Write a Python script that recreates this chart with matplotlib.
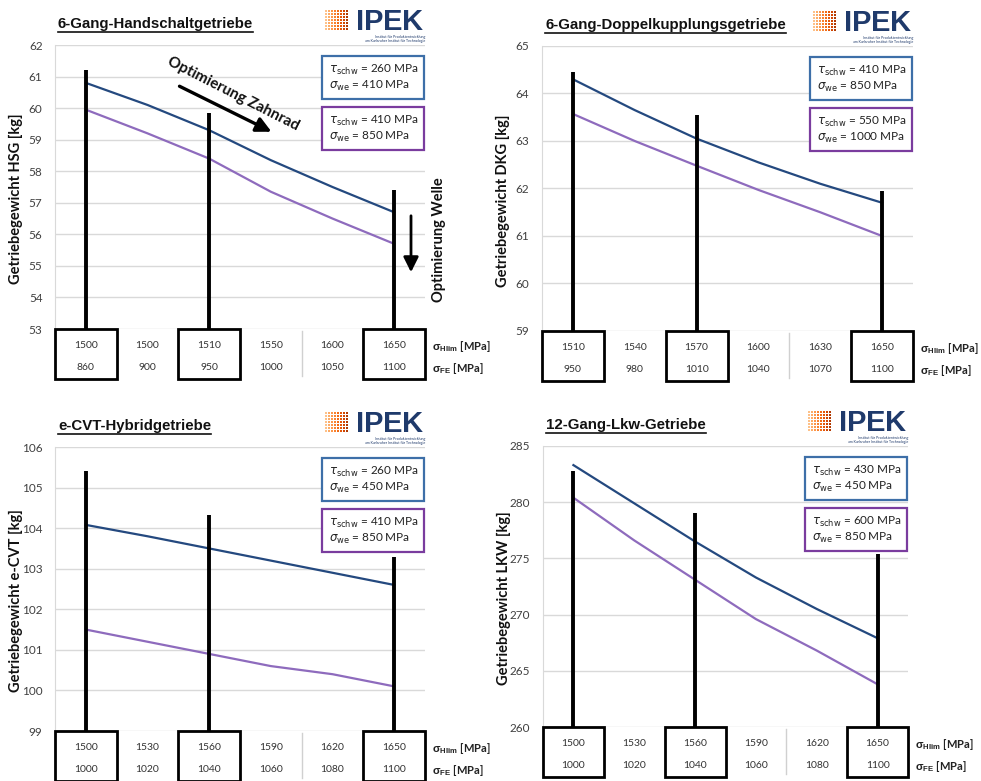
import numpy as np
import matplotlib.pyplot as plt
from matplotlib.patches import Rectangle, FancyArrowPatch
from matplotlib.transforms import blended_transform_factory

plt.rcParams['font.family'] = ['Lato', 'DejaVu Sans']
plt.rcParams['mathtext.fontset'] = 'custom'
plt.rcParams['mathtext.rm'] = 'DejaVu Sans'
plt.rcParams['mathtext.it'] = 'DejaVu Sans:italic'
plt.rcParams['mathtext.bf'] = 'Liberation Sans:bold'

W, H = 981, 781

# --- data ---
marked = [0, 2, 5]  # categories with a black frame / marker line

hsg_hlim = ["1500", "1500", "1510", "1550", "1600", "1650"]
hsg_fe = ["860", "900", "950", "1000", "1050", "1100"]
hsg_blue = [60.8, 60.1, 59.3, 58.35, 57.5, 56.7]
hsg_purple = [59.95, 59.2, 58.4, 57.35, 56.5, 55.7]
hsg_marker_tops = [61.2, 59.85, 57.4]
hsg_leg = [("260", "410"), ("410", "850")]

dkg_hlim = ["1510", "1540", "1570", "1600", "1630", "1650"]
dkg_fe = ["950", "980", "1010", "1040", "1070", "1100"]
dkg_blue = [64.3, 63.65, 63.05, 62.55, 62.1, 61.7]
dkg_purple = [63.57, 63.0, 62.48, 61.97, 61.5, 61.0]
dkg_marker_tops = [64.45, 63.55, 61.95]
dkg_leg = [("410", "850"), ("550", "1000")]

cvt_hlim = ["1500", "1530", "1560", "1590", "1620", "1650"]
cvt_fe = ["1000", "1020", "1040", "1060", "1080", "1100"]
cvt_blue = [104.08, 103.8, 103.5, 103.2, 102.9, 102.6]
cvt_purple = [101.5, 101.2, 100.9, 100.6, 100.4, 100.1]
cvt_marker_tops = [105.4, 104.33, 103.3]
cvt_leg = [("260", "450"), ("410", "850")]

lkw_hlim = ["1500", "1530", "1560", "1590", "1620", "1650"]
lkw_fe = ["1000", "1020", "1040", "1060", "1080", "1100"]
lkw_blue = [283.3, 279.9, 276.5, 273.3, 270.5, 267.9]
lkw_purple = [280.4, 276.6, 273.1, 269.6, 266.8, 263.8]
lkw_marker_tops = [282.8, 279.0, 275.4]
lkw_leg = [("430", "450"), ("600", "850")]

BLUE = "#24497f"
PURPLE = "#8e6bbd"
BOX_BLUE = "#3e6fa8"
BOX_PURPLE = "#7a3c9e"
NAVY = "#1f3a6b"

fig = plt.figure(figsize=(W / 100, H / 100), dpi=100)
titles = []


def fx(px):
    return px / W


def fy(py):
    return 1 - py / H


def panel(box, title, ylabel, yr, hlim, fe, blue, purple, tops, leg):
    x0, y0, x1, y1 = box
    axw, axh = x1 - x0, y1 - y0
    ax = fig.add_axes([fx(x0), fy(y1), fx(axw), axh / H])
    cats = np.arange(len(blue))
    ax.set_xlim(-0.5, len(blue) - 0.5)
    ax.set_ylim(yr[0], yr[1])
    ax.set_yticks(np.arange(yr[0], yr[1] + yr[2] / 2, yr[2]))
    ax.set_xticks([])
    ax.grid(axis='y', color='#d9d9d9', lw=1)
    ax.set_axisbelow(True)
    for s in ['top', 'right', 'bottom']:
        ax.spines[s].set_visible(False)
    ax.spines['left'].set_color('#d9d9d9')
    ax.tick_params(axis='y', length=0, pad=9, labelsize=8.5, labelcolor='#404040')

    ax.plot(cats, blue, color=BLUE, lw=1.6, zorder=3)
    ax.plot(cats, purple, color=PURPLE, lw=1.6, zorder=3)
    ax.vlines(cats[marked], yr[0], tops, color='black', lw=2.8, zorder=4)

    # data table under the plot
    tr = blended_transform_factory(ax.transData, ax.transAxes)
    r1, r2, bb = -17 / axh, -39 / axh, -50 / axh
    for i in cats:
        ax.text(i, r1, hlim[i], transform=tr, ha='center', va='center',
                fontsize=7.5, color='#333333')
        ax.text(i, r2, fe[i], transform=tr, ha='center', va='center',
                fontsize=7.5, color='#333333')
    for i in marked:
        ax.add_patch(Rectangle((i - 0.5, bb), 1, -bb, transform=tr, fill=False,
                               ec='black', lw=2, clip_on=False, zorder=5))
    ax.plot([3.5, 3.5], [-2 / axh, -47 / axh], transform=tr, color='#d0d0d0',
            lw=1, clip_on=False)
    ax.text(1 + 7 / axw, r1, r"$\mathbf{\sigma}_{\mathbf{Hlim}}$ [MPa]",
            transform=ax.transAxes, ha='left', va='center', fontsize=8,
            fontweight='bold', color='#222222')
    ax.text(1 + 7 / axw, r2, r"$\mathbf{\sigma}_{\mathbf{FE}}$ [MPa]",
            transform=ax.transAxes, ha='left', va='center', fontsize=8,
            fontweight='bold', color='#222222')

    # parameter boxes
    for k, (tau, sig) in enumerate(leg):
        ec = BOX_BLUE if k == 0 else BOX_PURPLE
        top = y0 + 11 + 51 * k
        bx = x1 - 103
        fig.add_artist(Rectangle((fx(bx), fy(top + 43)), fx(102), 43 / H,
                                 transform=fig.transFigure, fc='white', ec=ec,
                                 lw=1.6, zorder=6))
        fig.text(fx(bx + 7), fy(top + 14), r"$\tau_{\mathrm{schw}}$ = %s MPa" % tau,
                 ha='left', va='center', fontsize=8.5, color='#222222', zorder=7)
        fig.text(fx(bx + 7), fy(top + 30), r"$\sigma_{\mathrm{we}}$ = %s MPa" % sig,
                 ha='left', va='center', fontsize=8.5, color='#222222', zorder=7)

    # title and y label
    t = fig.text(fx(x0 + 3), fy(y0 - 21), title, ha='left', va='center',
                 fontsize=10.8, fontweight='bold', family='Liberation Sans',
                 color='#111111')
    titles.append(t)
    fig.text(fx(x0 - 39), fy((y0 + y1) / 2 + 12), ylabel, rotation=90,
             ha='center', va='center', fontsize=10.5, fontweight='bold',
             color='#111111')

    # IPEK logo
    fig.text(fx(x1), fy(y0 - 15), r"$\mathbf{IPEK}$", ha='right', va='baseline',
             fontsize=21, color=NAVY)
    fig.text(fx(x1), fy(y0 - 10), "Institut für Produktentwicklung\n"
             "am Karlsruher Institut für Technologie", ha='right', va='top',
             fontsize=2.6, color=NAVY, linespacing=1.0)
    gx, gy = np.meshgrid(np.arange(8), np.arange(7))
    sc_ax = fig.add_axes([fx(x1 - 101), fy(y0 - 14), fx(25), 22 / H])
    sc_ax.scatter(gx.ravel(), gy.ravel(), s=2.2, marker='s', c=gx.ravel(),
                  cmap='Oranges', vmin=-4, vmax=9, linewidths=0)
    sc_ax.set_xlim(-0.5, 7.5)
    sc_ax.set_ylim(-0.5, 6.5)
    sc_ax.axis('off')
    return ax


panel((55, 45, 425, 329), "6-Gang-Handschaltgetriebe", "Getriebegewicht HSG [kg]",
      (53, 62, 1), hsg_hlim, hsg_fe, hsg_blue, hsg_purple, hsg_marker_tops, hsg_leg)
panel((542, 46, 913, 331), "6-Gang-Doppelkupplungsgetriebe", "Getriebegewicht DKG [kg]",
      (59, 65, 1), dkg_hlim, dkg_fe, dkg_blue, dkg_purple, dkg_marker_tops, dkg_leg)
panel((55, 447, 425, 731), "e-CVT-Hybridgetriebe", "Getriebegewicht e-CVT [kg]",
      (99, 106, 1), cvt_hlim, cvt_fe, cvt_blue, cvt_purple, cvt_marker_tops, cvt_leg)
panel((543, 446, 908, 727), "12-Gang-Lkw-Getriebe", "Getriebegewicht LKW [kg]",
      (260, 285, 5), lkw_hlim, lkw_fe, lkw_blue, lkw_purple, lkw_marker_tops, lkw_leg)

# annotations in the first panel
fig.text(fx(233), fy(94), "Optimierung Zahnrad", rotation=-27, rotation_mode='anchor',
         ha='center', va='center', fontsize=11, fontweight='bold', color='#111111')
fig.add_artist(FancyArrowPatch((fx(177), fy(85)), (fx(274), fy(133)),
                               transform=fig.transFigure,
                               arrowstyle='-|>,head_length=6,head_width=3',
                               lw=2.4, color='black', mutation_scale=1.5))
fig.text(fx(439), fy(240), "Optimierung Welle", rotation=90, ha='center', va='center',
         fontsize=10.5, fontweight='bold', color='#111111')
fig.add_artist(FancyArrowPatch((fx(411), fy(213)), (fx(411), fy(275)),
                               transform=fig.transFigure,
                               arrowstyle='-|>,head_length=6,head_width=3',
                               lw=2.0, color='black', mutation_scale=1.5))

# underline the titles
fig.canvas.draw()
renderer = fig.canvas.get_renderer()
for t in titles:
    bb = t.get_window_extent(renderer)
    yl = bb.y0 - 1
    fig.add_artist(plt.Line2D([bb.x0 / W, bb.x1 / W], [yl / H, yl / H],
                              transform=fig.transFigure, color='#111111', lw=1.2))

fig.savefig("out.png", dpi=100)
